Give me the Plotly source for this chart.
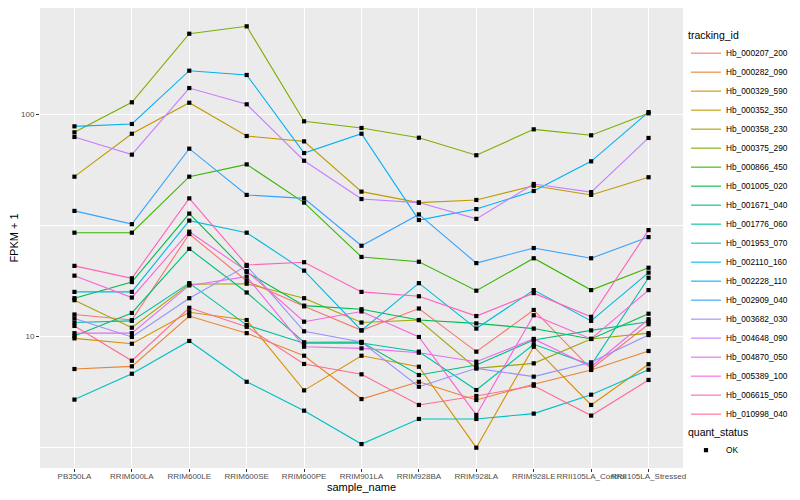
import plotly.graph_objects as go

samples = ["PB350LA", "RRIM600LA", "RRIM600LE", "RRIM600SE", "RRIM600PE", "RRIM901LA",
           "RRIM928BA", "RRIM928LA", "RRIM928LE", "RRII105LA_Control", "RRII105LA_Stressed"]

tracking_ids = ["Hb_000207_200", "Hb_000282_090", "Hb_000329_590", "Hb_000352_350", "Hb_000358_230",
                "Hb_000375_290", "Hb_000866_450", "Hb_001005_020", "Hb_001671_040", "Hb_001776_060",
                "Hb_001953_070", "Hb_002110_160", "Hb_002228_110", "Hb_002909_040", "Hb_003682_030",
                "Hb_004648_090", "Hb_004870_050", "Hb_005389_100", "Hb_006615_050", "Hb_010998_040"]

# FPKM + 1 values per sample
hb_000207_200 = [12.5, 11.8, 28.8, 17.7, 13.6, 10.6, 13.3, 8.5, 13.1, 7.1, 11.3]
hb_000282_090 = [7.1, 7.3, 12.3, 10.3, 8.15, 5.2, 6.22, 5.15, 6.06, 7.03, 8.56]
hb_000329_590 = [9.76, 9.23, 12.8, 11.8, 5.69, 8.15, 7.27, 3.14, 8.95, 4.89, 7.46]
hb_000352_350 = [52.2, 81.5, 112.4, 79.6, 75.3, 44.7, 39.9, 41.0, 47.5, 43.2, 51.9]
hb_000358_230 = [14.5, 10.9, 17.1, 17.2, 14.8, 11.5, 11.8, 7.15, 7.53, 9.7, 10.3]
hb_000375_290 = [82.7, 112.9, 229.9, 248.3, 92.7, 86.5, 78.2, 65.2, 85.3, 80.2, 100.7]
hb_000866_450 = [29.2, 29.2, 52.2, 59.3, 39.9, 22.7, 21.6, 16.0, 22.4, 16.1, 20.3]
hb_001005_020 = [14.8, 17.5, 35.6, 19.4, 13.7, 13.2, 11.8, 11.4, 10.8, 9.7, 12.6]
hb_001671_040 = [10.0, 12.7, 24.7, 15.7, 9.37, 9.4, 6.67, 7.4, 9.6, 10.6, 11.6]
hb_001776_060 = [11.5, 11.7, 17.3, 11.2, 9.27, 9.3, 8.5, 5.71, 9.18, 7.4, 18.3]
hb_001953_070 = [5.17, 6.76, 9.5, 6.22, 4.61, 3.26, 4.23, 4.23, 4.47, 5.44, 7.05]
hb_002110_160 = [15.8, 15.8, 33.1, 29.2, 19.7, 10.6, 17.3, 10.8, 16.1, 11.7, 19.3]
hb_002228_110 = [88.0, 90.2, 156.7, 149.9, 66.7, 81.5, 33.3, 37.3, 45.0, 61.2, 102.0]
hb_002909_040 = [36.6, 31.9, 69.8, 43.2, 41.7, 25.5, 35.3, 21.3, 24.9, 22.4, 27.9]
hb_003682_030 = [12.0, 9.9, 14.8, 20.7, 10.5, 9.4, 5.91, 7.15, 6.56, 7.61, 10.1]
hb_004648_090 = [78.8, 65.6, 130.9, 110.6, 61.6, 41.4, 39.9, 33.7, 48.4, 44.5, 78.0]
hb_004870_050 = [10.3, 10.3, 16.9, 18.5, 8.95, 8.8, 8.41, 7.66, 9.7, 7.27, 11.9]
hb_005389_100 = [18.7, 14.9, 29.5, 19.6, 11.6, 12.9, 9.9, 4.41, 12.4, 9.7, 16.1]
hb_006615_050 = [20.7, 18.2, 41.7, 20.9, 21.5, 15.8, 15.1, 12.3, 15.6, 12.2, 30.0]
hb_010998_040 = [11.1, 7.74, 13.4, 11.0, 7.48, 6.72, 4.89, 5.37, 5.97, 4.38, 6.34]

series_values = [hb_000207_200, hb_000282_090, hb_000329_590, hb_000352_350, hb_000358_230,
                 hb_000375_290, hb_000866_450, hb_001005_020, hb_001671_040, hb_001776_060,
                 hb_001953_070, hb_002110_160, hb_002228_110, hb_002909_040, hb_003682_030,
                 hb_004648_090, hb_004870_050, hb_005389_100, hb_006615_050, hb_010998_040]

palette = ["#F8766D", "#EA8331", "#D89000", "#C09B00", "#A3A500", "#7CAE00", "#39B600", "#00BB4E",
           "#00BF7D", "#00C1A3", "#00BFC4", "#00BAE0", "#00B0F6", "#35A2FF", "#9590FF", "#C77CFF",
           "#E76BF3", "#FA62DB", "#FF62BC", "#FF6C91"]

y_ticks = [10, 100]
y_minor = [3.1623, 31.623, 316.23]

FONT = "Liberation Sans, Arial, sans-serif"

fig = go.Figure()
for name, vals, col in zip(tracking_ids, series_values, palette):
    fig.add_trace(go.Scatter(x=samples, y=vals, mode="lines", name=name,
                             line=dict(color=col, width=1.1), legend="legend"))

all_x = [s for _ in series_values for s in samples]
all_y = [v for vals in series_values for v in vals]
fig.add_trace(go.Scatter(x=all_x, y=all_y, mode="markers", name="OK",
                         marker=dict(symbol="square", size=4.2, color="black"),
                         legend="legend2"))

# page body has an 8px margin, so the figure is sized to fit the 800x500 window
W, H = 792, 492
fig.update_layout(
    width=W, height=H,
    margin=dict(l=32, r=117, t=0, b=32, autoexpand=False),
    paper_bgcolor="white", plot_bgcolor="#EBEBEB",
    font=dict(family=FONT, color="black"),
    legend=dict(title=dict(text="tracking_id", font=dict(size=10.5)),
                font=dict(size=8.3), xref="container", yref="container",
                x=678 / W, xanchor="left", y=1 - 17 / H, yanchor="top", maxheight=2000,
                bgcolor="rgba(0,0,0,0)", tracegroupgap=0, itemwidth=30),
    legend2=dict(title=dict(text="quant_status", font=dict(size=10.5)),
                 font=dict(size=8.3), xref="container", yref="container",
                 x=678 / W, xanchor="left", y=1 - 414 / H, yanchor="top", maxheight=2000,
                 bgcolor="rgba(0,0,0,0)", itemwidth=30),
    xaxis=dict(type="category", categoryorder="array", categoryarray=samples,
               range=[-0.6, 10.6], showgrid=True, gridcolor="white", gridwidth=1.3,
               ticks="outside", ticklen=3, tickcolor="#333333", tickwidth=1,
               tickangle=0, tickfont=dict(size=8, color="#4D4D4D"), ticklabelstandoff=-3,
               title=dict(text="sample_name", font=dict(size=11), standoff=2),
               showline=False, zeroline=False, automargin=False),
    yaxis=dict(type="log", range=[0.4054, 2.4775], tickvals=y_ticks, ticktext=["10", "100"],
               showgrid=True, gridcolor="white", gridwidth=1.3,
               minor=dict(tickvals=y_minor, showgrid=True, gridcolor="white", gridwidth=0.6, ticks=""),
               ticks="outside", ticklen=3, tickcolor="#333333", tickwidth=1,
               tickfont=dict(size=8, color="#4D4D4D"),
               title=dict(text="FPKM + 1", font=dict(size=11), standoff=0),
               showline=False, zeroline=False, automargin=False),
)

fig.write_html("out.html")
